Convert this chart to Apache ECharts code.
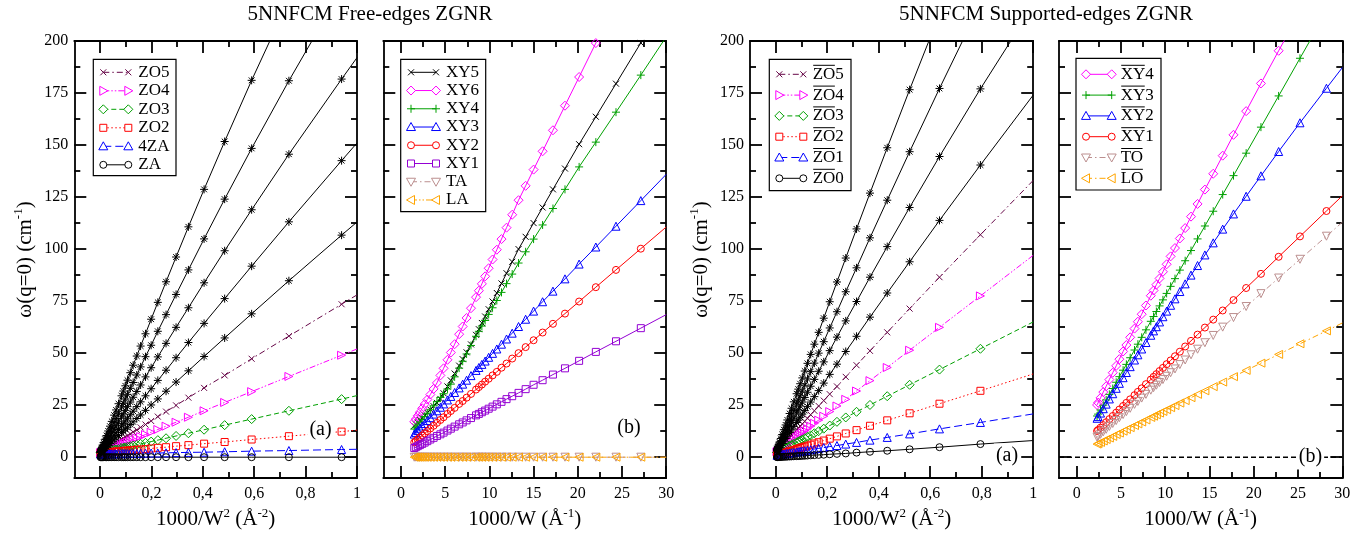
<!DOCTYPE html>
<html>
<head>
<meta charset="utf-8">
<script src="https://cdn.jsdelivr.net/npm/echarts@6/dist/echarts.min.js"></script>
<style>html,body{margin:0;padding:0;background:#fff}#chart{width:1363px;height:539px}</style>
</head>
<body>
<div id="chart"></div>
<script>
// ================= DATA =================
// tick labels
const xTicksInvW2 = [0, 0.2, 0.4, 0.6, 0.8, 1];
const xMinorInvW2 = [0.1, 0.3, 0.5, 0.7, 0.9];
const xTicksInvW = [0, 5, 10, 15, 20, 25, 30];
const xMinorInvW = [2.5, 7.5, 12.5, 17.5, 22.5, 27.5];
const yTicks = [0, 25, 50, 75, 100, 125, 150, 175, 200];
const yMinor = [12.5, 37.5, 62.5, 87.5, 112.5, 137.5, 162.5, 187.5];

// ---- panel (a), free edges, x = 1000/W^2 (first entry: fitted line at the right edge) ----
const freeX2 = [1.0, 0.940, 0.735, 0.590, 0.485, 0.405, 0.344, 0.296, 0.257, 0.225, 0.199, 0.177, 0.158, 0.143, 0.129, 0.118, 0.107, 0.0985, 0.0907, 0.0837, 0.0721, 0.0627, 0.055, 0.0459, 0.0389, 0.0318, 0.0253, 0.0199, 0.015, 0.011, 0.0081, 0.0058, 0.004, 0.0022];
const freeZO10 = [285, 270.8, 219.8, 181.1, 151.7, 128.7, 110.7, 96.2, 84.3, 74.4, 66.3, 59.3, 53.4, 48.6, 44.2, 40.6, 37.0, 34.3, 31.8, 29.5, 25.7, 22.7, 20.2, 17.2, 14.9, 12.6, 10.4, 8.6, 7.0, 5.7, 4.7, 3.9, 3.3, 2.7];
const freeZO9 = [237, 224.7, 180.9, 148.4, 124.0, 104.9, 90.0, 78.2, 68.5, 60.5, 53.8, 48.3, 43.4, 39.5, 35.9, 33.1, 30.2, 28.0, 25.9, 24.1, 21.1, 18.6, 16.6, 14.2, 12.4, 10.5, 8.8, 7.3, 6.0, 4.9, 4.2, 3.5, 3.1, 2.6];
const freeZO8 = [192, 181.7, 145.6, 118.9, 99.2, 83.8, 71.8, 62.4, 54.7, 48.2, 43.0, 38.6, 34.7, 31.6, 28.8, 26.5, 24.3, 22.5, 20.8, 19.4, 17.0, 15.1, 13.5, 11.6, 10.2, 8.7, 7.3, 6.2, 5.2, 4.3, 3.7, 3.2, 2.8, 2.5];
const freeZO7 = [151, 142.5, 113.1, 91.8, 76.2, 64.3, 55.1, 47.8, 41.8, 36.9, 32.9, 29.5, 26.6, 24.3, 22.1, 20.4, 18.7, 17.4, 16.1, 15.1, 13.3, 11.8, 10.6, 9.2, 8.1, 7.0, 6.0, 5.1, 4.4, 3.7, 3.3, 2.9, 2.6, 2.3];
const freeZO6 = [113, 106.7, 84.8, 68.9, 57.3, 48.4, 41.5, 36.1, 31.7, 28.0, 25.1, 22.5, 20.3, 18.6, 17.0, 15.7, 14.4, 13.5, 12.6, 11.8, 10.4, 9.3, 8.4, 7.4, 6.6, 5.7, 5.0, 4.3, 3.8, 3.3, 2.9, 2.7, 2.5, 2.3];
const freeZO5 = [78, 73.5, 58.2, 47.3, 39.3, 33.3, 28.6, 24.9, 21.9, 19.5, 17.4, 15.7, 14.3, 13.1, 12.1, 11.2, 10.3, 9.7, 9.1, 8.5, 7.6, 6.9, 6.3, 5.6, 5.0, 4.5, 4.0, 3.6, 3.2, 2.9, 2.6, 2.5, 2.3, 2.2];
const freeZO4 = [52, 49.0, 38.8, 31.5, 26.3, 22.3, 19.2, 16.8, 14.9, 13.3, 12.0, 10.9, 9.9, 9.2, 8.5, 7.9, 7.4, 6.9, 6.5, 6.2, 5.6, 5.1, 4.8, 4.3, 3.9, 3.6, 3.3, 3.0, 2.8, 2.6, 2.4, 2.3, 2.2, 2.1];
const freeZO3 = [29.6, 27.9, 22.3, 18.3, 15.4, 13.2, 11.5, 10.2, 9.1, 8.2, 7.5, 6.9, 6.4, 5.9, 5.6, 5.3, 5.0, 4.7, 4.5, 4.3, 4.0, 3.7, 3.5, 3.3, 3.1, 2.9, 2.7, 2.5, 2.4, 2.3, 2.2, 2.2, 2.1, 2.1];
const freeZO2 = [13, 12.3, 10.1, 8.5, 7.3, 6.5, 5.8, 5.3, 4.8, 4.5, 4.2, 3.9, 3.7, 3.6, 3.4, 3.3, 3.2, 3.1, 3.0, 2.9, 2.8, 2.7, 2.6, 2.5, 2.4, 2.3, 2.3, 2.2, 2.2, 2.1, 2.1, 2.1, 2.0, 2.0];
const free4ZA = [3.8, 3.7, 3.2, 2.9, 2.6, 2.4, 2.3, 2.2, 2.1, 2.0, 2.0, 1.9, 1.9, 1.8, 1.8, 1.8, 1.7, 1.7, 1.7, 1.7, 1.7, 1.6, 1.6, 1.6, 1.6, 1.6, 1.6, 1.5, 1.5, 1.5, 1.5, 1.5, 1.5, 1.5];
const freeZA = [0, 0, 0, 0, 0, 0, 0, 0, 0, 0, 0, 0, 0, 0, 0, 0, 0, 0, 0, 0, 0, 0, 0, 0, 0, 0, 0, 0, 0, 0, 0, 0, 0, 0];

// ---- panel (b), free edges, x = 1000/W (first entry: fitted line at the right edge) ----
const freeX1 = [30, 27.13, 24.32, 22.04, 20.15, 18.55, 17.19, 16.02, 15.00, 14.10, 13.30, 12.58, 11.94, 11.37, 10.84, 10.36, 9.92, 9.52, 9.15, 8.81, 8.49, 7.92, 7.42, 6.98, 6.58, 6.07, 5.64, 5.26, 4.82, 4.46, 4.07, 3.69, 3.32, 2.98, 2.68, 2.40, 2.14, 1.90, 1.68, 1.50];
const freeXY5 = [218, 199.1, 179.5, 163.6, 150.4, 138.7, 128.7, 120.0, 112.5, 105.9, 100.0, 93.9, 88.4, 83.5, 78.9, 74.8, 71.1, 67.6, 64.5, 61.5, 58.8, 54.2, 50.4, 47.1, 44.0, 40.2, 36.9, 34.0, 30.7, 28.0, 26.1, 24.5, 22.9, 21.4, 20.1, 18.9, 17.8, 16.7, 15.8, 15.0];
const freeXY6 = [265, 241.3, 218.0, 199.0, 182.7, 168.9, 157.1, 147.0, 138.2, 130.4, 123.5, 116.5, 110.3, 104.8, 99.7, 95.0, 90.8, 86.9, 83.3, 80.0, 76.9, 71.6, 66.9, 62.8, 59.1, 54.3, 50.3, 46.8, 42.7, 39.3, 35.7, 32.8, 30.1, 27.7, 25.5, 23.5, 21.6, 19.9, 18.3, 17.0];
const freeXY4 = [202, 183.6, 165.8, 151.4, 139.5, 128.7, 119.5, 111.6, 104.8, 98.7, 93.3, 88.0, 83.4, 79.2, 75.3, 71.8, 68.6, 65.7, 63.0, 60.5, 58.1, 53.7, 49.6, 46.1, 42.8, 38.6, 35.1, 32.8, 30.5, 28.7, 26.7, 24.7, 22.8, 21.1, 19.5, 18.1, 16.8, 15.5, 14.4, 13.5];
const freeXY3 = [135.9, 123.3, 111.0, 101.0, 92.8, 85.7, 79.8, 74.7, 70.2, 66.3, 62.8, 59.6, 56.8, 54.3, 52.0, 49.9, 48.0, 46.2, 44.6, 43.1, 41.7, 39.2, 37.0, 35.1, 33.3, 31.1, 29.2, 27.5, 25.6, 24.0, 22.3, 20.7, 19.0, 17.6, 16.2, 15.0, 13.9, 12.8, 11.9, 11.1];
const freeXY2 = [110.6, 100.2, 90.0, 81.7, 74.8, 69.0, 64.1, 59.9, 56.2, 52.9, 50.0, 47.4, 45.0, 43.0, 41.0, 39.3, 37.7, 36.3, 34.9, 33.7, 32.5, 30.4, 28.6, 27.0, 25.6, 23.7, 22.2, 20.8, 19.2, 17.9, 16.5, 15.1, 13.8, 12.5, 11.4, 10.4, 9.5, 8.6, 7.8, 7.1];
const freeXY1 = [68.5, 62.0, 55.7, 50.6, 46.3, 42.7, 39.7, 37.0, 34.8, 32.7, 30.9, 29.3, 27.9, 26.6, 25.4, 24.3, 23.3, 22.4, 21.6, 20.8, 20.1, 18.8, 17.7, 16.7, 15.8, 14.7, 13.7, 12.8, 11.8, 11.0, 10.2, 9.3, 8.5, 7.7, 7.0, 6.4, 5.8, 5.3, 4.8, 4.4];
const freeTA = [0, 0, 0, 0, 0, 0, 0, 0, 0, 0, 0, 0, 0, 0, 0, 0, 0, 0, 0, 0, 0, 0, 0, 0, 0, 0, 0, 0, 0, 0, 0, 0, 0, 0, 0, 0, 0, 0, 0, 0];
const freeLA = [0, 0, 0, 0, 0, 0, 0, 0, 0, 0, 0, 0, 0, 0, 0, 0, 0, 0, 0, 0, 0, 0, 0, 0, 0, 0, 0, 0, 0, 0, 0, 0, 0, 0, 0, 0, 0, 0, 0, 0];

// ---- panel (a) right, supported edges, x = 1000/W^2 ----
const suppX2 = [1.0, 0.795, 0.636, 0.520, 0.433, 0.366, 0.3138, 0.2719, 0.2378, 0.2097, 0.1864, 0.1667, 0.1500, 0.1357, 0.1233, 0.1126, 0.1032, 0.0949, 0.0876, 0.0811, 0.0701, 0.0612, 0.0539, 0.0451, 0.0384, 0.0315, 0.0252, 0.0199, 0.0150, 0.0111, 0.0081, 0.0058, 0.0053];
const suppZO9 = [321, 261.3, 212.9, 176.6, 148.7, 126.9, 109.7, 95.7, 84.2, 74.7, 66.8, 60.0, 54.3, 49.4, 45.1, 41.4, 38.1, 35.3, 32.7, 30.5, 26.6, 23.5, 21.0, 17.9, 15.5, 13.2, 10.9, 9.0, 7.3, 5.9, 4.9, 4.1, 3.9];
const suppZO8 = [268, 217.7, 177.2, 146.8, 123.5, 105.4, 91.0, 79.5, 69.9, 62.1, 55.5, 50.0, 45.2, 41.1, 37.6, 34.6, 31.8, 29.5, 27.4, 25.5, 22.4, 19.8, 17.6, 15.1, 13.2, 11.2, 9.4, 7.8, 6.4, 5.2, 4.4, 3.7, 3.5];
const suppZO7 = [217, 177.0, 144.5, 120.0, 101.2, 86.5, 74.8, 65.5, 57.7, 51.2, 45.8, 41.3, 37.4, 34.1, 31.2, 28.7, 26.5, 24.6, 22.8, 21.3, 18.7, 16.6, 14.8, 12.8, 11.2, 9.6, 8.0, 6.8, 5.6, 4.7, 3.9, 3.4, 3.3];
const suppZO6 = [174, 140.4, 113.8, 93.9, 78.9, 67.3, 58.1, 50.8, 44.7, 39.8, 35.6, 32.0, 29.1, 26.5, 24.3, 22.4, 20.7, 19.2, 17.8, 16.7, 14.8, 13.1, 11.8, 10.2, 9.0, 7.7, 6.6, 5.6, 4.7, 4.0, 3.5, 3.1, 3.0];
const suppZO5 = [133, 106.9, 86.5, 71.4, 60.0, 51.1, 44.2, 38.6, 34.0, 30.3, 27.2, 24.6, 22.3, 20.4, 18.7, 17.2, 16.0, 14.9, 13.9, 13.0, 11.5, 10.3, 9.3, 8.1, 7.2, 6.3, 5.4, 4.7, 4.0, 3.5, 3.1, 2.8, 2.7];
const suppZO4 = [97, 77.5, 62.4, 51.4, 43.1, 36.8, 31.8, 27.8, 24.6, 21.9, 19.7, 17.8, 16.3, 14.9, 13.7, 12.7, 11.8, 11.0, 10.3, 9.7, 8.7, 7.8, 7.1, 6.3, 5.6, 5.0, 4.4, 3.9, 3.4, 3.1, 2.8, 2.6, 2.5];
const suppZO3 = [65, 52.1, 42.1, 34.8, 29.3, 25.1, 21.8, 19.1, 17.0, 15.2, 13.7, 12.5, 11.5, 10.5, 9.8, 9.1, 8.5, 8.0, 7.5, 7.1, 6.4, 5.9, 5.4, 4.8, 4.4, 4.0, 3.6, 3.3, 2.9, 2.7, 2.5, 2.4, 2.3];
const suppZO2 = [40.0, 31.9, 25.7, 21.1, 17.7, 15.1, 13.0, 11.4, 10.0, 8.9, 8.0, 7.2, 6.6, 6.0, 5.5, 5.1, 4.8, 4.4, 4.1, 3.9, 3.5, 3.1, 2.8, 2.5, 2.2, 1.9, 1.7, 1.5, 1.3, 1.1, 1.0, 0.9, 0.9];
const suppZO1 = [20.8, 16.7, 13.6, 11.2, 9.5, 8.2, 7.1, 6.3, 5.6, 5.1, 4.6, 4.2, 3.9, 3.6, 3.4, 3.1, 3.0, 2.8, 2.6, 2.5, 2.3, 2.1, 2.0, 1.8, 1.7, 1.5, 1.4, 1.3, 1.2, 1.1, 1.1, 1.0, 1.0];
const suppZO0 = [8.0, 6.3, 4.8, 3.8, 3.1, 2.6, 2.2, 1.8, 1.6, 1.4, 1.2, 1.1, 1.0, 0.9, 0.8, 0.7, 0.66, 0.6, 0.56, 0.5, 0.44, 0.39, 0.34, 0.28, 0.24, 0.2, 0.16, 0.12, 0.09, 0.07, 0.05, 0.04, 0.03];

// ---- panel (b) right, supported edges, x = 1000/W ----
const suppX1 = [30, 28.21, 25.22, 22.81, 20.81, 19.14, 17.71, 16.49, 15.42, 14.48, 13.65, 12.91, 12.25, 11.65, 11.10, 10.61, 10.16, 9.74, 9.36, 9.00, 8.68, 8.37, 7.82, 7.34, 6.91, 6.53, 6.04, 5.61, 5.24, 4.82, 4.46, 4.07, 3.69, 3.33, 3.00, 2.69, 2.42, 2.30];
const suppXY4 = [250.3, 236.8, 214.0, 195.3, 179.6, 166.3, 154.9, 144.9, 136.2, 128.6, 121.7, 115.6, 110.1, 105.1, 100.5, 96.5, 92.7, 89.1, 85.9, 82.9, 80.1, 77.6, 72.9, 68.7, 65.1, 61.8, 57.6, 53.9, 50.8, 47.1, 43.9, 40.6, 37.3, 34.1, 31.3, 28.5, 26.2, 25.1];
const suppXY3 = [227.5, 214.1, 191.7, 173.6, 158.6, 146.1, 135.3, 126.2, 118.2, 111.1, 104.9, 99.3, 94.4, 89.9, 85.8, 82.1, 78.7, 75.6, 72.7, 70.0, 67.6, 65.3, 61.2, 57.6, 54.3, 51.5, 47.8, 44.6, 41.8, 38.7, 36.0, 33.0, 30.2, 27.5, 25.0, 22.7, 20.7, 19.8];
const suppXY2 = [187.2, 177.3, 160.7, 146.9, 135.2, 125.4, 116.9, 109.6, 103.0, 97.2, 92.1, 87.5, 83.3, 79.6, 76.1, 73.0, 70.2, 67.5, 65.0, 62.7, 60.7, 58.6, 55.1, 52.0, 49.2, 46.7, 43.5, 40.7, 38.2, 35.5, 33.1, 30.5, 28.0, 25.5, 23.3, 21.2, 19.5, 18.7];
const suppXY1 = [125.6, 118.3, 106.1, 96.3, 88.1, 81.3, 75.5, 70.5, 66.1, 62.3, 58.9, 55.9, 53.2, 50.7, 48.5, 46.5, 44.7, 42.9, 41.4, 39.9, 38.6, 37.3, 35.1, 33.1, 31.4, 29.8, 27.8, 26.1, 24.6, 22.9, 21.4, 19.8, 18.3, 16.8, 15.4, 14.2, 13.1, 12.6];
const suppTO = [112.9, 106.2, 95.1, 86.1, 78.6, 72.4, 67.1, 62.5, 58.5, 55.0, 51.9, 49.2, 46.7, 44.5, 42.4, 40.6, 38.9, 37.3, 35.9, 34.6, 33.4, 32.2, 30.2, 28.4, 26.8, 25.4, 23.5, 21.9, 20.5, 19.0, 17.6, 16.2, 14.8, 13.4, 12.2, 11.0, 10.0, 9.6];
const suppLO = [64.5, 60.7, 54.5, 49.4, 45.2, 41.7, 38.7, 36.1, 33.9, 31.9, 30.2, 28.6, 27.2, 26.0, 24.8, 23.8, 22.8, 22.0, 21.2, 20.4, 19.7, 19.1, 17.9, 16.9, 16.0, 15.2, 14.2, 13.3, 12.5, 11.6, 10.9, 10.0, 9.2, 8.5, 7.8, 7.1, 6.6, 6.3];
const zeroLineX = [-2, 30];
const zeroLineY = [0, 0];

// ================= STYLE =================
const SERIF = '"Liberation Serif", "Times New Roman", Times, serif';
const COL = {black:'#000000', red:'#ff0000', green:'#00a000', blue:'#0000ff', magenta:'#ff00ff',
  maroon:'#670748', violet:'#9400d3', brown:'#bc8f8f', orange:'#ffa500'};
const SYMS = {
  circle: {s:'circle', size:7},
  square: {s:'rect', size:7},
  diamond: {s:'diamond', size:9},
  triUp: {s:'triangle', size:8, rot:0},
  triDown: {s:'triangle', size:8, rot:180},
  triLeft: {s:'triangle', size:8, rot:90},
  triRight: {s:'triangle', size:8, rot:-90},
  cross: {s:'path://M-1,-1L1,1M-1,1L1,-1', size:6},
  plus: {s:'path://M0,-1L0,1M-1,0L1,0', size:8},
  star: {s:'path://M0,-1L0,1M-1,0L1,0M-0.72,-0.72L0.72,0.72M-0.72,0.72L0.72,-0.72', size:8}
};
const DASH = {solid:'solid', dot:[1.5,2.5], dash:[5,3], longdash:[8,4], dashdot:[6,3,1.5,3], dashdotdot:[6,2,1.5,2,1.5,2]};

// series specs per panel (order = drawing order)
const panelA = {xs: freeX2, list: [
  {y: freeZO5, c:'maroon', sym:'cross', dash:'dashdot', label:'ZO5'},
  {y: freeZO4, c:'magenta', sym:'triRight', dash:'dashdotdot', label:'ZO4'},
  {y: freeZO3, c:'green', sym:'diamond', dash:'dash', label:'ZO3'},
  {y: freeZO2, c:'red', sym:'square', dash:'dot', label:'ZO2'},
  {y: free4ZA, c:'blue', sym:'triUp', dash:'longdash', label:'4ZA'},
  {y: freeZA, c:'black', sym:'circle', dash:'solid', label:'ZA'},
  {y: freeZO6, c:'black', sym:'star', dash:'solid'},
  {y: freeZO7, c:'black', sym:'star', dash:'solid'},
  {y: freeZO8, c:'black', sym:'star', dash:'solid'},
  {y: freeZO9, c:'black', sym:'star', dash:'solid'},
  {y: freeZO10, c:'black', sym:'star', dash:'solid'}
]};
const panelB = {xs: freeX1, list: [
  {y: freeXY5, c:'black', sym:'cross', dash:'solid', label:'XY5'},
  {y: freeXY6, c:'magenta', sym:'diamond', dash:'solid', label:'XY6'},
  {y: freeXY4, c:'green', sym:'plus', dash:'solid', label:'XY4'},
  {y: freeXY3, c:'blue', sym:'triUp', dash:'solid', label:'XY3'},
  {y: freeXY2, c:'red', sym:'circle', dash:'solid', label:'XY2'},
  {y: freeXY1, c:'violet', sym:'square', dash:'solid', label:'XY1'},
  {y: freeTA, c:'brown', sym:'triDown', dash:'dashdot', label:'TA'},
  {y: freeLA, c:'orange', sym:'triLeft', dash:'dashdotdot', label:'LA'}
]};
const panelC = {xs: suppX2, list: [
  {y: suppZO5, c:'maroon', sym:'cross', dash:'dashdot', label:'ZO5', bar:2},
  {y: suppZO4, c:'magenta', sym:'triRight', dash:'dashdotdot', label:'ZO4', bar:2},
  {y: suppZO3, c:'green', sym:'diamond', dash:'dash', label:'ZO3', bar:2},
  {y: suppZO2, c:'red', sym:'square', dash:'dot', label:'ZO2', bar:2},
  {y: suppZO1, c:'blue', sym:'triUp', dash:'longdash', label:'ZO1', bar:2},
  {y: suppZO0, c:'black', sym:'circle', dash:'solid', label:'ZO0', bar:2},
  {y: suppZO6, c:'black', sym:'star', dash:'solid'},
  {y: suppZO7, c:'black', sym:'star', dash:'solid'},
  {y: suppZO8, c:'black', sym:'star', dash:'solid'},
  {y: suppZO9, c:'black', sym:'star', dash:'solid'}
]};
const panelD = {xs: suppX1, list: [
  {y: suppXY4, c:'magenta', sym:'diamond', dash:'solid', label:'XY4', bar:2},
  {y: suppXY3, c:'green', sym:'plus', dash:'solid', label:'XY3', bar:2},
  {y: suppXY2, c:'blue', sym:'triUp', dash:'solid', label:'XY2', bar:2},
  {y: suppXY1, c:'red', sym:'circle', dash:'solid', label:'XY1', bar:2},
  {y: suppTO, c:'brown', sym:'triDown', dash:'dashdot', label:'TO', bar:2},
  {y: suppLO, c:'orange', sym:'triLeft', dash:'dashdot', label:'LO', bar:2}
]};
const panels = [panelA, panelB, panelC, panelD];

// layout
const GRIDS = [
  {left:74.3, top:41, width:282.7, height:437},
  {left:383.3, top:41, width:282.9, height:437},
  {left:750, top:41, width:283.2, height:437},
  {left:1059, top:41, width:283.3, height:437}
];
const XR = [[-0.1, 1], [-2, 30], [-0.1, 1], [-2, 30]];
const LEGENDS = [
  {box:[93.3, 59.3, 82.7, 116.4], x1:103.3, x2:128.3, tx:138.3, y0:72.3, dy:18.5},
  {box:[400.7, 59.3, 85, 152.4], x1:411, x2:436, tx:446, y0:72.3, dy:18.24},
  {box:[769.3, 59.3, 81.7, 131.4], x1:779.3, x2:803.3, tx:812.7, y0:74.3, dy:20.8},
  {box:[1076, 58.3, 85, 131.7], x1:1086, x2:1111.7, tx:1120.7, y0:74.3, dy:20.8}
];

const AX_W = 1.8;
const nameStyle = {fontSize:21, fontFamily:SERIF, color:'#000', lineHeight:26,
  rich:{sup:{fontSize:13, fontFamily:SERIF, color:'#000', lineHeight:13, verticalAlign:'top'}}};
const fmtComma = v => String(v).replace('.', ',');

const xAxes = [], yAxes = [];
GRIDS.forEach((g, p) => {
  const isW2 = (p % 2 === 0);
  const majors = isW2 ? xTicksInvW2 : xTicksInvW;
  const minors = isW2 ? xMinorInvW2 : xMinorInvW;
  const base = {type:'value', gridIndex:p, min:XR[p][0], max:XR[p][1], splitLine:{show:false}, silent:true};
  const line = {show:true, onZero:false, lineStyle:{color:'#000', width:AX_W}};
  const tick = (vals, len) => ({show:true, inside:true, length:len, customValues:vals, lineStyle:{color:'#000', width:AX_W}});
  xAxes.push(Object.assign({}, base, {position:'bottom', axisLine:line, axisTick:tick(majors, 12),
    axisLabel:{show:true, customValues:majors, formatter:fmtComma, color:'#000', fontSize:16, fontFamily:SERIF, margin:8},
    name: isW2 ? '1000/W{sup|2} (Å{sup|-2})' : '1000/W (Å{sup|-1})', nameLocation:'middle', nameGap:27, nameTextStyle:nameStyle}));
  xAxes.push(Object.assign({}, base, {position:'bottom', axisLine:{show:false, onZero:false}, axisTick:tick(minors, 6), axisLabel:{show:false}}));
  xAxes.push(Object.assign({}, base, {position:'top', axisLine:line, axisTick:tick(majors, 12), axisLabel:{show:false}}));
  xAxes.push(Object.assign({}, base, {position:'top', axisLine:{show:false, onZero:false}, axisTick:tick(minors, 6), axisLabel:{show:false}}));
  const ybase = {type:'value', gridIndex:p, min:-10, max:200, splitLine:{show:false}, silent:true};
  const showY = isW2;
  yAxes.push(Object.assign({}, ybase, {position:'left', axisLine:line, axisTick:tick(yTicks, 12),
    axisLabel:{show:showY, customValues:yTicks, color:'#000', fontSize:16, fontFamily:SERIF, margin:6},
    name: showY ? 'ω(q=0) (cm{sup|-1})' : '', nameLocation:'middle', nameGap:36, nameTextStyle:nameStyle}));
  yAxes.push(Object.assign({}, ybase, {position:'left', axisLine:{show:false, onZero:false}, axisTick:tick(yMinor, 6), axisLabel:{show:false}}));
  yAxes.push(Object.assign({}, ybase, {position:'right', axisLine:line, axisTick:tick(yTicks, 12), axisLabel:{show:false}}));
  yAxes.push(Object.assign({}, ybase, {position:'right', axisLine:{show:false, onZero:false}, axisTick:tick(yMinor, 6), axisLabel:{show:false}}));
});

const series = [];
panels.forEach((P, p) => {
  P.list.forEach(s => {
    const sy = SYMS[s.sym];
    const col = COL[s.c];
    series.push({
      type:'line', xAxisIndex:p*4, yAxisIndex:p*4, name:s.label || '',
      data: P.xs.map((x, i) => i === 0 ? {value:[x, s.y[i]], symbol:'none'} : [x, s.y[i]]),
      symbol: sy.s, symbolSize: sy.size, symbolRotate: sy.rot || 0, showSymbol:true,
      clip:true, silent:true, animation:false, emphasis:{disabled:true},
      itemStyle:{color:'rgba(0,0,0,0)', borderColor:col, borderWidth:1},
      lineStyle:{color:col, width:1, type:DASH[s.dash]}
    });
  });
});
// dashed zero line in supported-edges panel (b)
series.push({type:'line', xAxisIndex:12, yAxisIndex:12, data: zeroLineX.map((x, i) => [x, zeroLineY[i]]),
  symbol:'none', clip:true, silent:true, animation:false, emphasis:{disabled:true},
  lineStyle:{color:'#000', width:1.5, type:[5,3]}});

// ================= custom legends / labels (graphic) =================
const mctx = document.createElement('canvas').getContext('2d');
function textW(t, size) { mctx.font = size + 'px "Liberation Serif"'; return mctx.measureText(t).width; }
function gSym(kind, cx, cy, col) {
  const st = {fill:'#fff', stroke:col, lineWidth:1};
  const ln = (x1,y1,x2,y2) => ({type:'line', z:102, shape:{x1,y1,x2,y2}, style:{stroke:col, lineWidth:1}});
  switch (kind) {
    case 'circle': return [{type:'circle', z:102, shape:{cx, cy, r:3.5}, style:st}];
    case 'square': return [{type:'rect', z:102, shape:{x:cx-3.5, y:cy-3.5, width:7, height:7}, style:st}];
    case 'diamond': return [{type:'polygon', z:102, shape:{points:[[cx,cy-4.5],[cx+4.5,cy],[cx,cy+4.5],[cx-4.5,cy]]}, style:st}];
    case 'triUp': return [{type:'polygon', z:102, shape:{points:[[cx,cy-4.5],[cx+4.5,cy+3.5],[cx-4.5,cy+3.5]]}, style:st}];
    case 'triDown': return [{type:'polygon', z:102, shape:{points:[[cx,cy+4.5],[cx+4.5,cy-3.5],[cx-4.5,cy-3.5]]}, style:st}];
    case 'triLeft': return [{type:'polygon', z:102, shape:{points:[[cx-4.5,cy],[cx+3.5,cy-4.5],[cx+3.5,cy+4.5]]}, style:st}];
    case 'triRight': return [{type:'polygon', z:102, shape:{points:[[cx+4.5,cy],[cx-3.5,cy-4.5],[cx-3.5,cy+4.5]]}, style:st}];
    case 'cross': return [ln(cx-3,cy-3,cx+3,cy+3), ln(cx-3,cy+3,cx+3,cy-3)];
    case 'plus': return [ln(cx-4,cy,cx+4,cy), ln(cx,cy-4,cx,cy+4)];
  }
  return [];
}
const graphics = [];
LEGENDS.forEach((L, p) => {
  const [bx, by, bw, bh] = L.box;
  graphics.push({type:'rect', z:100, shape:{x:bx, y:by, width:bw, height:bh}, style:{fill:'#fff', stroke:'#000', lineWidth:1.2}});
  panels[p].list.filter(s => s.label).forEach((s, i) => {
    const y = L.y0 + i * L.dy;
    const col = COL[s.c];
    const d = DASH[s.dash];
    graphics.push({type:'line', z:101, shape:{x1:L.x1, y1:y, x2:L.x2, y2:y}, style:{stroke:col, lineWidth:1, lineDash: d === 'solid' ? null : d}});
    graphics.push(...gSym(s.sym, L.x1, y, col), ...gSym(s.sym, L.x2, y, col));
    graphics.push({type:'text', z:101, x:L.tx, y:y, style:{text:s.label, font:'17px ' + SERIF, fill:'#000', align:'left', verticalAlign:'middle'}});
    if (s.bar) {
      const w = textW(s.label.slice(0, s.bar), 17);
      graphics.push({type:'line', z:101, shape:{x1:L.tx + 0.5, y1:y - 9, x2:L.tx + w - 0.5, y2:y - 9}, style:{stroke:'#000', lineWidth:1}});
    }
  });
});
const PANEL_TAGS = [
  {t:'(a)', x:320.5, y:430}, {t:'(b)', x:629, y:428}, {t:'(a)', x:1007, y:456}, {t:'(b)', x:1310.5, y:457}
];
PANEL_TAGS.forEach(o => graphics.push({type:'text', z:103, x:o.x, y:o.y,
  style:{text:o.t, font:'20px ' + SERIF, fill:'#000', align:'center', verticalAlign:'middle', backgroundColor:'#fff', padding:[3,2,2,2]}}));
graphics.push({type:'text', z:103, x:370, y:14, style:{text:'5NNFCM Free-edges ZGNR', font:'21px ' + SERIF, fill:'#000', align:'center', verticalAlign:'middle'}});
graphics.push({type:'text', z:103, x:1046, y:14, style:{text:'5NNFCM Supported-edges ZGNR', font:'21px ' + SERIF, fill:'#000', align:'center', verticalAlign:'middle'}});

const chart = echarts.init(document.getElementById('chart'), null, {renderer:'canvas'});
chart.setOption({
  animation:false,
  backgroundColor:'#ffffff',
  textStyle:{fontFamily:SERIF},
  grid: GRIDS.map(g => Object.assign({containLabel:false, outerBoundsMode:'none'}, g)),
  xAxis: xAxes,
  yAxis: yAxes,
  series: series,
  graphic: {elements: graphics}
});
</script>
</body>
</html>
